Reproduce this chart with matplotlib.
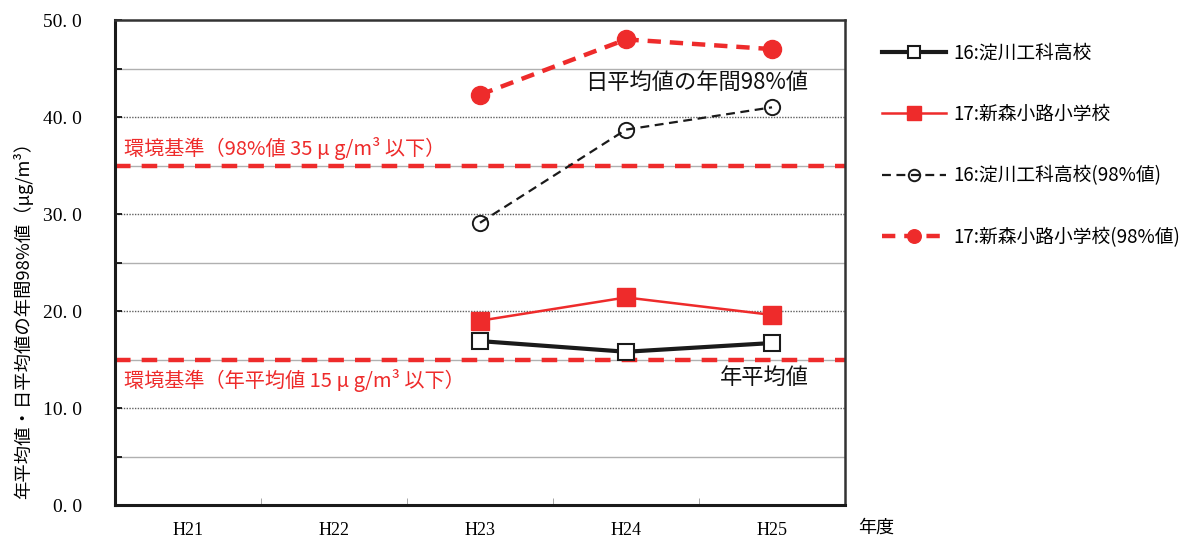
import matplotlib
matplotlib.use("Agg")
import matplotlib.pyplot as plt

plt.rcParams['font.family'] = ['Noto Sans CJK JP', 'DejaVu Sans']

# fiscal years and measured values (μg/m³)
years = ["H21", "H22", "H23", "H24", "H25"]
yodogawa_mean = [None, None, 16.9, 15.8, 16.7]
shinmori_mean = [None, None, 19.0, 21.4, 19.6]
yodogawa_98 = [None, None, 29.1, 38.7, 41.0]
shinmori_98 = [None, None, 42.3, 48.0, 47.0]
std_98 = 35
std_mean = 15

RED = "#EE2B2B"
serif = "Liberation Serif"

fig = plt.figure(figsize=(11.89, 5.38), dpi=100)
ax = fig.add_axes([0.0967, 0.0613, 0.614, 0.9015])

xs = [i + 0.5 for i in range(len(years))]

def pts(vals):
    px = [x for x, v in zip(xs, vals) if v is not None]
    py = [v for v in vals if v is not None]
    return px, py

# grid: solid light lines at the 5s, dotted at the 10s
for y in range(5, 50, 10):
    ax.axhline(y, color="#b0b0b0", lw=1.0, zorder=0)
for y in range(10, 50, 10):
    ax.axhline(y, color="#606060", lw=1.0, ls=(0, (1, 1)), zorder=0)

# environmental standards
ax.axhline(std_98, color=RED, lw=3.2, ls=(0, (3.5, 2.5)), zorder=2)
ax.axhline(std_mean, color=RED, lw=3.2, ls=(0, (3.5, 2.5)), zorder=2)

l1, = ax.plot(*pts(yodogawa_mean), color="#1a1a1a", lw=3, marker="s", ms=11,
              mfc="white", mec="#1a1a1a", mew=1.5, zorder=4)
l2, = ax.plot(*pts(shinmori_mean), color=RED, lw=1.8, marker="s", ms=13,
              mfc=RED, mec=RED, zorder=4)
l3, = ax.plot(*pts(yodogawa_98), color="#1a1a1a", lw=1.6, ls=(0, (4, 2.5)),
              marker="o", ms=11, mfc="none", mec="#1a1a1a", mew=1.4, zorder=4)
l4, = ax.plot(*pts(shinmori_98), color=RED, lw=3.2, ls=(0, (3, 2)),
              marker="o", ms=13, mfc=RED, mec=RED, zorder=4)

ax.set_xlim(0, len(years))
ax.set_ylim(0, 50)
ax.set_yticks(range(0, 51, 10))
ax.set_yticks(range(5, 50, 10), minor=True)
ax.set_yticklabels([f"{v}. 0" for v in range(0, 51, 10)], fontfamily=serif, fontsize=14)
ax.tick_params(axis="y", which="both", direction="in", length=5, width=1.2, pad=24)
ax.set_xticks(xs)
ax.set_xticklabels(years, fontfamily=serif, fontsize=13)
ax.tick_params(axis="x", which="major", length=0, pad=12)
ax.set_xticks(range(1, len(years)), minor=True)
ax.tick_params(axis="x", which="minor", direction="in", length=5, color="#999999")

for side in ["left", "bottom"]:
    ax.spines[side].set_linewidth(2.2)
    ax.spines[side].set_color("#1a1a1a")
for side in ["top", "right"]:
    ax.spines[side].set_linewidth(1.8)
    ax.spines[side].set_color("#333333")

ax.set_ylabel("年平均値・日平均値の年間98%値（μg/m³）", fontsize=13.2)
ax.yaxis.set_label_coords(-0.112, 0.39)

ax.text(0.06, 36.8, "環境基準（98%値 35 μ g/m³ 以下）", color=RED, fontsize=14.5,
        ha="left", va="center")
ax.text(0.06, 12.8, "環境基準（年平均値 15 μ g/m³ 以下）", color=RED, fontsize=14.5,
        ha="left", va="center")
ax.text(4.75, 43.6, "日平均値の年間98%値", fontsize=16, ha="right", va="center",
        color="#111111")
ax.text(4.75, 13.1, "年平均値", fontsize=16, ha="right", va="center",
        color="#111111")
fig.text(0.722, 0.02, "年度", fontsize=13, ha="left", va="center")

labels = ["16:淀川工科高校", "17:新森小路小学校",
          "16:淀川工科高校(98%値)", "17:新森小路小学校(98%値)"]
fig.legend([l1, l2, l3, l4], labels, loc="upper left",
           bbox_to_anchor=(0.728, 0.952), frameon=False, fontsize=13.5,
           handlelength=3.4, numpoints=1, labelspacing=2.15,
           handletextpad=0.4, markerscale=0.75)

fig.savefig("out.png", dpi=100)
